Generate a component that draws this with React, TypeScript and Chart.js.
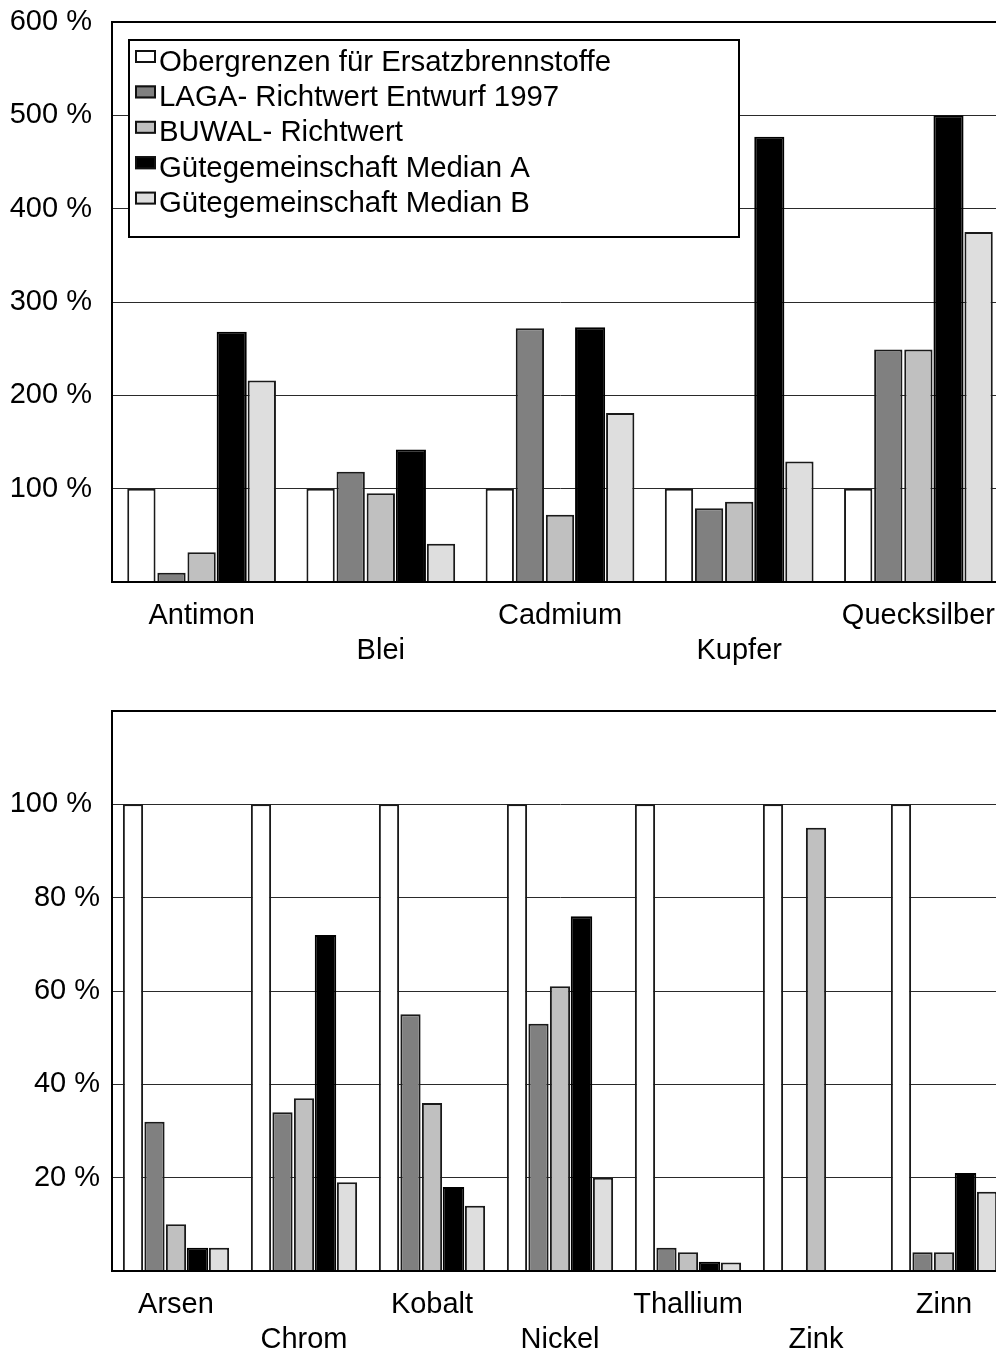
import React, { useEffect, useRef } from 'react';
import { Chart, registerables } from 'chart.js';

Chart.register(...registerables);

const FONT_FAMILY = '"Liberation Sans", Arial, Helvetica, sans-serif';

const seriesNames = [
  'Obergrenzen für Ersatzbrennstoffe',
  'LAGA- Richtwert Entwurf 1997',
  'BUWAL- Richtwert',
  'Gütegemeinschaft Median A',
  'Gütegemeinschaft Median B',
];
const seriesColors = ['#ffffff', '#808080', '#c0c0c0', '#000000', '#dedede'];

// Upper chart (values in % of the upper limit)
const topCategories = ['Antimon', 'Blei', 'Cadmium', 'Kupfer', 'Quecksilber'];
const topObergrenzen = [100, 100, 100, 100, 100];
const topLaga = [10, 118, 272, 79, 249];
const topBuwal = [32, 95, 72, 86, 249];
const topMedianA = [268, 142, 273, 477, 500];
const topMedianB = [216, 41, 181, 129, 375];
const topAxisMax = 600;
const topAxisStep = 100;

// Lower chart
const bottomCategories = ['Arsen', 'Chrom', 'Kobalt', 'Nickel', 'Thallium', 'Zink', 'Zinn'];
const bottomObergrenzen = [100, 100, 100, 100, 100, 100, 100];
const bottomLaga = [32, 34, 55, 53, 5, 0, 4];
const bottomBuwal = [10, 37, 36, 61, 4, 95, 4];
const bottomMedianA = [5, 72, 18, 76, 2, 0, 21];
const bottomMedianB = [5, 19, 14, 20, 1.8, 0, 17];
const bottomAxisMax = 120;
const bottomAxisStep = 20;

const boxLegend = {
  id: 'boxLegend',
  afterDraw(chart: any, _args: any, opts: any) {
    if (!opts || !opts.show) return;
    const ctx = chart.ctx as CanvasRenderingContext2D;
    ctx.save();
    ctx.fillStyle = '#ffffff';
    ctx.fillRect(129, 40, 610, 197);
    ctx.lineWidth = 2;
    ctx.strokeStyle = '#000000';
    ctx.strokeRect(129, 40, 610, 197);
    ctx.font = `29.4px ${FONT_FAMILY}`;
    ctx.textAlign = 'left';
    ctx.textBaseline = 'alphabetic';
    chart.data.datasets.forEach((ds: any, i: number) => {
      const top = 50 + 35.4 * i;
      ctx.fillStyle = ds.backgroundColor;
      ctx.fillRect(135, top, 21, 13);
      ctx.lineWidth = 2;
      ctx.strokeStyle = '#111111';
      ctx.strokeRect(136, top + 1, 19, 11);
      ctx.fillStyle = '#000000';
      ctx.fillText(ds.label, 159, top + 20.5);
    });
    ctx.restore();
  },
};

function makeDatasets(values: number[][]) {
  return values.map((data, i) => ({
    label: seriesNames[i],
    data,
    backgroundColor: seriesColors[i],
    borderColor: i === 3 ? '#000000' : '#1a1a1a',
    borderWidth: 2,
    barPercentage: i === 3 ? 1 : 0.94,
    categoryPercentage: 0.84,
  }));
}

function staggered(cats: string[]) {
  return cats.map((c, i) => (i % 2 === 1 ? ['', c] : c));
}

function makeConfig(
  cats: string[],
  values: number[][],
  max: number,
  step: number,
  padTop: number,
  xHeight: number,
  showLegend: boolean
): any {
  return {
    type: 'bar',
    data: { labels: staggered(cats), datasets: makeDatasets(values) },
    plugins: [boxLegend],
    options: {
      responsive: false,
      animation: false,
      events: [],
      layout: { padding: { top: padTop, right: 2, left: 0, bottom: 0 } },
      plugins: {
        legend: { display: false },
        tooltip: { enabled: false },
        title: { display: false },
        boxLegend: { show: showLegend },
      },
      scales: {
        x: {
          type: 'category',
          grid: { display: false },
          border: { display: true, color: '#000000', width: 2, z: 1 },
          ticks: {
            color: '#000000',
            font: { family: FONT_FAMILY, size: 29 },
            padding: 9,
            autoSkip: false,
            maxRotation: 0,
            minRotation: 0,
          },
          afterFit: (s: any) => {
            s.height = xHeight;
          },
        },
        y: {
          min: 0,
          max,
          grid: {
            drawTicks: false,
            color: (c: any) => (c.tick && c.tick.value === max ? '#000000' : '#2a2a2a'),
            lineWidth: (c: any) => (c.tick && c.tick.value === max ? 2 : 1),
          },
          border: { display: true, color: '#000000', width: 2 },
          ticks: {
            stepSize: step,
            color: '#000000',
            padding: 12,
            font: { family: FONT_FAMILY, size: 29 },
            callback: (v: any) => {
              const n = Number(v);
              if (n === 0 || (n === max && max !== 600)) return '';
              return n >= 100 ? `${n} % ` : `${n} %`;
            },
          },
          afterFit: (s: any) => {
            s.width = 112;
            s.paddingTop = 17;
            s.paddingBottom = 17;
          },
        },
      },
    },
  };
}

export default function App() {
  const topRef = useRef<HTMLCanvasElement | null>(null);
  const botRef = useRef<HTMLCanvasElement | null>(null);

  useEffect(() => {
    const charts: Chart[] = [];
    if (topRef.current) {
      charts.push(
        new Chart(
          topRef.current,
          makeConfig(
            topCategories,
            [topObergrenzen, topLaga, topBuwal, topMedianA, topMedianB],
            topAxisMax,
            topAxisStep,
            22,
            88,
            true
          )
        )
      );
    }
    if (botRef.current) {
      charts.push(
        new Chart(
          botRef.current,
          makeConfig(
            bottomCategories,
            [bottomObergrenzen, bottomLaga, bottomBuwal, bottomMedianA, bottomMedianB],
            bottomAxisMax,
            bottomAxisStep,
            31,
            80,
            false
          )
        )
      );
    }
    return () => charts.forEach((c) => c.destroy());
  }, []);

  return (
    <div
      style={{
        position: 'fixed',
        left: 0,
        top: 0,
        width: 996,
        height: 1351,
        overflow: 'hidden',
        background: '#ffffff',
      }}
    >
      <canvas
        ref={topRef}
        width={1010}
        height={670}
        style={{ position: 'absolute', left: 0, top: 0, display: 'block' }}
      />
      <canvas
        ref={botRef}
        width={1010}
        height={671}
        style={{ position: 'absolute', left: 0, top: 680, display: 'block' }}
      />
    </div>
  );
}
